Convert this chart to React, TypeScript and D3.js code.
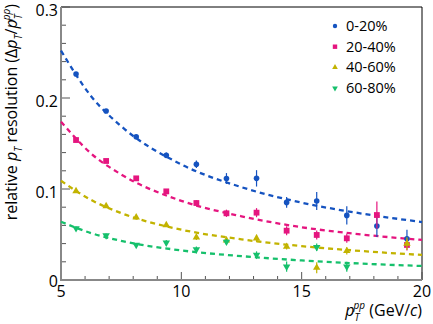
import React from 'react';
import * as d3 from 'd3';

// bin centres of p_T^pp (GeV/c)
const ptBins = [5.625, 6.875, 8.125, 9.375, 10.625, 11.875, 13.125, 14.375, 15.625, 16.875, 18.125, 19.375];

const cent0020 = [0.2264, 0.1857, 0.1575, 0.137, 0.1272, 0.1115, 0.1117, 0.0853, 0.0868, 0.071, 0.0593, 0.0452];
const err0020 = [0.002, 0.002, 0.002, 0.003, 0.004, 0.006, 0.009, 0.006, 0.01, 0.01, 0.012, 0.01];

const cent2040 = [0.1538, 0.1308, 0.1117, 0.0974, 0.0846, 0.0733, 0.074, 0.0542, 0.0495, 0.0458, 0.0714, 0.0385];
const err2040 = [0.002, 0.002, 0.002, 0.002, 0.003, 0.004, 0.005, 0.005, 0.005, 0.005, 0.015, 0.006];

const cent4060 = [0.0978, 0.0813, 0.0689, 0.0604, 0.0469, 0.0435, 0.0458, 0.0366, 0.0135, 0.0319, null, 0.04];
const err4060 = [0.002, 0.002, 0.002, 0.002, 0.003, 0.004, 0.004, 0.003, 0.006, 0.004, null, 0.007];

const cent6080 = [0.0568, 0.049, 0.0385, 0.041, 0.0337, 0.042, 0.0275, 0.0147, 0.036, 0.0146, null, null];
const err6080 = [0.002, 0.002, 0.002, 0.003, 0.003, 0.003, 0.004, 0.0055, 0.004, 0.0055, null, null];

// dashed fit curves
const fitX = [5, 6.25, 7.5, 10, 12.5, 15, 17.5, 20];
const fit0020 = [0.252, 0.202, 0.169, 0.127, 0.102, 0.085, 0.073, 0.0637];
const fit2040 = [0.174, 0.139, 0.116, 0.087, 0.07, 0.058, 0.05, 0.044];
const fit4060 = [0.109, 0.088, 0.0735, 0.0553, 0.0447, 0.0372, 0.0318, 0.0275];
const fit6080 = [0.064, 0.0515, 0.043, 0.0325, 0.0262, 0.0215, 0.018, 0.0154];

const labels = ['0-20%', '20-40%', '40-60%', '60-80%'];
const colors = ['#1553c0', '#e5157f', '#c2b300', '#16c06c'];
const symbols = ['circle', 'square', 'up', 'down'];

const xTicks = [5, 10, 15, 20];
const yTicks = [0, 0.1, 0.2, 0.3];

const W = 433;
const H = 324;
const margin = { top: 7, right: 11, bottom: 44, left: 61 };
const FONT = "'Open Sans', sans-serif";

const Marker = ({ kind, x, y, color }: { kind: string; x: number; y: number; color: string }) => {
  if (kind === 'circle') return <circle cx={x} cy={y} r={2.8} fill={color} />;
  if (kind === 'square') return <rect x={x - 2.9} y={y - 2.9} width={5.8} height={5.8} fill={color} />;
  const path = d3.symbol().type(d3.symbolTriangle).size(24)() as string;
  return <path d={path} transform={`translate(${x},${y})${kind === 'down' ? ' rotate(180)' : ''}`} fill={color} />;
};

export default function App() {
  const x = d3.scaleLinear().domain([5, 20]).range([margin.left, W - margin.right]);
  const y = d3.scaleLinear().domain([0, 0.3]).range([H - margin.bottom, margin.top]);

  const series = [
    { vals: cent0020, errs: err0020, fit: fit0020 },
    { vals: cent2040, errs: err2040, fit: fit2040 },
    { vals: cent4060, errs: err4060, fit: fit4060 },
    { vals: cent6080, errs: err6080, fit: fit6080 },
  ];

  const line = d3.line<number>()
    .x((_, i) => x(fitX[i]))
    .y(d => y(d))
    .curve(d3.curveMonotoneX);

  const x0 = x(5), x1 = x(20), yb = y(0), yt = y(0.3);
  const xMinor = d3.range(5, 20.01, 1);
  const yMinor = d3.range(0, 0.301, 0.02);

  return (
    <svg width={W} height={H} style={{ position: 'absolute', left: 0, top: 0, background: '#fff' }} fontFamily={FONT}>
      {/* frame */}
      <line x1={x0} x2={x1} y1={yt} y2={yt} stroke="#000" strokeWidth={1} />
      <line x1={x1} x2={x1} y1={yt} y2={yb} stroke="#000" strokeWidth={1} />

      {/* ticks */}
      {xMinor.map(t => {
        const major = xTicks.includes(Math.round(t));
        return <line key={'xt' + t} x1={x(t)} x2={x(t)} y1={yb} y2={yb - (major ? 8 : 4)} stroke="#555" strokeWidth={1} />;
      })}
      {yMinor.map((t, i) => {
        const major = i % 5 === 0;
        return <line key={'yt' + i} x1={x0} x2={x0 + (major ? 9 : 5)} y1={y(t)} y2={y(t)} stroke="#555" strokeWidth={1} />;
      })}
      <line x1={x0} x2={x1} y1={yb} y2={yb} stroke="#888" strokeWidth={2} />
      <line x1={x0} x2={x0} y1={yt} y2={yb + 1} stroke="#888" strokeWidth={2} />

      {/* tick labels */}
      {xTicks.map(t => (
        <text key={'xl' + t} x={x(t)} y={yb + 17} textAnchor="middle" fontSize={16} fill="#000">{t}</text>
      ))}
      {yTicks.map(t => (
        <text key={'yl' + t} x={x0 - 3} y={y(t) + (t === 0 ? 7 : 9)} textAnchor="end" fontSize={16} fill="#000">
          {t === 0 ? '0' : t.toFixed(1)}
        </text>
      ))}

      {/* axis titles */}
      <text x={422} y={316} textAnchor="end" fontSize={16} fill="#000">
        <tspan fontStyle="italic">p</tspan>
        <tspan fontStyle="italic" fontSize={10} dy={5}>T</tspan>
        <tspan fontStyle="italic" fontSize={10} dx={-6} dy={-12}>pp</tspan>
        <tspan dy={7}> (GeV/</tspan>
        <tspan fontStyle="italic">c</tspan>
        <tspan>)</tspan>
      </text>
      <text transform="rotate(-90)" x={-4} y={17} textAnchor="end" fontSize={16} fill="#000">
        <tspan>relative </tspan>
        <tspan fontStyle="italic">p</tspan>
        <tspan fontStyle="italic" fontSize={10} dy={5}>T</tspan>
        <tspan dy={-5}> resolution (Δ</tspan>
        <tspan fontStyle="italic">p</tspan>
        <tspan fontStyle="italic" fontSize={10} dy={5}>T</tspan>
        <tspan dy={-5}>/</tspan>
        <tspan fontStyle="italic">p</tspan>
        <tspan fontStyle="italic" fontSize={10} dy={5}>T</tspan>
        <tspan fontStyle="italic" fontSize={10} dx={-6} dy={-12}>pp</tspan>
        <tspan dy={7}>)</tspan>
      </text>

      {/* fit curves */}
      {series.map((s, k) => (
        <path key={'fit' + k} d={line(s.fit) as string} fill="none" stroke={colors[k]} strokeWidth={2.3} strokeDasharray="5,4" />
      ))}

      {/* points */}
      {series.map((s, k) => (
        <g key={'pts' + k}>
          {s.vals.map((v, i) => v == null ? null : (
            <g key={i}>
              <line x1={x(ptBins[i])} x2={x(ptBins[i])} y1={y(v - (s.errs[i] as number))} y2={y(v + (s.errs[i] as number))} stroke={colors[k]} strokeWidth={1.2} />
              <Marker kind={symbols[k]} x={x(ptBins[i])} y={y(v)} color={colors[k]} />
            </g>
          ))}
        </g>
      ))}

      {/* legend */}
      {labels.map((l, k) => (
        <g key={'lg' + k}>
          {k === 0 ? <circle cx={335} cy={26 + k * 20.7} r={2.2} fill={colors[k]} />
            : k === 1 ? <rect x={332.8} y={23.8 + k * 20.7} width={4.4} height={4.4} fill={colors[k]} />
            : <path d={d3.symbol().type(d3.symbolTriangle).size(14)() as string} transform={`translate(335,${26 + k * 20.7})${k === 3 ? ' rotate(180)' : ''}`} fill={colors[k]} />}
          <text x={346} y={26 + k * 20.7 + 5} fontSize={14.5} fill="#000">{l}</text>
        </g>
      ))}
    </svg>
  );
}
